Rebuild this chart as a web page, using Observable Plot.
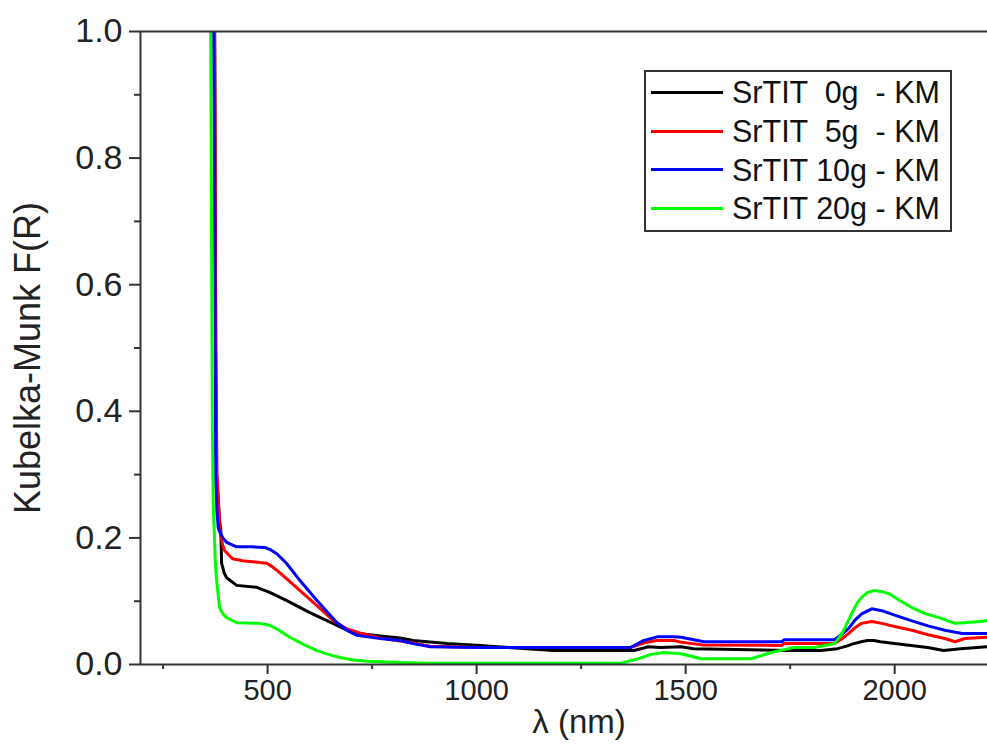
<!DOCTYPE html>
<html>
<head>
<meta charset="utf-8">
<script src="https://cdn.jsdelivr.net/npm/d3@7"></script>
<script src="https://cdn.jsdelivr.net/npm/@observablehq/plot@0.6"></script>
<style>
  html, body { margin: 0; padding: 0; background: #fff; }
  #wrap { position: relative; width: 987px; height: 749px; font-family: "Liberation Sans", Arial, sans-serif; }
  #legend { position: absolute; left: 644px; top: 70px; width: 304px; height: 158px; border: 2px solid #333; background: #fff; box-sizing: content-box; }
  .row { position: absolute; left: 0; height: 39px; display: flex; align-items: center; }
  .sw { width: 72px; height: 0; border-top: 3px solid; margin-left: 5px; margin-right: 9px; }
  .lbl { font-size: 30.5px; white-space: pre; color: #111; line-height: 1; }
</style>
</head>
<body>
<div id="wrap"><div id="chart"></div><div id="legend"></div></div>
<script>
// ---- data ----
const seriesNames = ["SrTIT  0g  - KM", "SrTIT  5g  - KM", "SrTIT 10g - KM", "SrTIT 20g - KM"];
const seriesColors = ["#000000", "#ff0000", "#0000ff", "#00ff00"];

const nm0g = [370, 374, 376, 378, 385, 388, 390, 396, 402, 426, 474, 505, 546, 601, 656, 704, 769, 817, 848, 930, 1009, 1050, 1184, 1376, 1400, 1410, 1440, 1489, 1519, 1744, 1823, 1863, 1885, 1902, 1920, 1935, 1950, 1966, 2014, 2079, 2117, 2158, 2222];
const km0g = [1.5, 0.9, 0.5, 0.3, 0.225, 0.216, 0.16, 0.145, 0.137, 0.125, 0.122, 0.114, 0.101, 0.082, 0.065, 0.05, 0.045, 0.042, 0.038, 0.033, 0.030, 0.028, 0.022, 0.022, 0.026, 0.028, 0.027, 0.028, 0.025, 0.022, 0.022, 0.025, 0.029, 0.033, 0.036, 0.038, 0.038, 0.036, 0.032, 0.027, 0.022, 0.025, 0.028];

const nm5g = [370, 374, 376, 379, 384, 387, 392, 397, 416, 440, 470, 498, 510, 522, 550, 577, 618, 656, 690, 720, 769, 848, 889, 1009, 1369, 1400, 1430, 1472, 1490, 1540, 1729, 1736, 1856, 1872, 1890, 1905, 1921, 1945, 1969, 2000, 2041, 2080, 2120, 2144, 2168, 2222];
const km5g = [1.5, 0.9, 0.5, 0.3, 0.24, 0.21, 0.19, 0.18, 0.167, 0.164, 0.162, 0.16, 0.155, 0.149, 0.133, 0.117, 0.093, 0.07, 0.056, 0.05, 0.042, 0.034, 0.029, 0.027, 0.027, 0.034, 0.038, 0.038, 0.035, 0.031, 0.030, 0.033, 0.033, 0.04, 0.049, 0.058, 0.065, 0.068, 0.065, 0.06, 0.054, 0.047, 0.041, 0.036, 0.041, 0.043];

const nm10g = [366, 371, 373, 374, 375, 375.5, 376, 379, 382, 385, 393, 402, 426, 460, 493, 505, 522, 545, 577, 618, 640, 666, 690, 714, 769, 817, 848, 889, 1009, 1369, 1400, 1434, 1472, 1489, 1544, 1729, 1736, 1856, 1872, 1890, 1905, 1921, 1945, 1969, 2000, 2041, 2080, 2120, 2161, 2222];
const km10g = [1.5, 1.0, 0.77, 0.66, 0.46, 0.36, 0.29, 0.24, 0.216, 0.21, 0.2, 0.193, 0.186, 0.186, 0.185, 0.182, 0.175, 0.16, 0.133, 0.101, 0.085, 0.066, 0.054, 0.046, 0.041, 0.038, 0.033, 0.028, 0.027, 0.027, 0.038, 0.044, 0.044, 0.043, 0.036, 0.036, 0.039, 0.039, 0.047, 0.057, 0.07, 0.08, 0.088, 0.085, 0.078, 0.069, 0.061, 0.054, 0.049, 0.049];

const nm20g = [360, 364, 366, 368, 370, 373, 375, 378, 385, 393, 402, 426, 481, 505, 530, 553, 585, 618, 645, 673, 705, 738, 817, 889, 1345, 1386, 1417, 1448, 1489, 1537, 1657, 1705, 1760, 1808, 1856, 1870, 1878, 1897, 1910, 1921, 1935, 1952, 1970, 1986, 2010, 2041, 2070, 2106, 2144, 2168, 2222];
const km20g = [1.5, 1.0, 0.66, 0.36, 0.25, 0.2, 0.16, 0.133, 0.09, 0.08, 0.074, 0.066, 0.065, 0.062, 0.053, 0.043, 0.032, 0.022, 0.016, 0.011, 0.007, 0.005, 0.003, 0.002, 0.002, 0.009, 0.016, 0.019, 0.017, 0.009, 0.009, 0.019, 0.027, 0.027, 0.033, 0.045, 0.054, 0.08, 0.097, 0.106, 0.114, 0.117, 0.115, 0.112, 0.102, 0.09, 0.081, 0.074, 0.065, 0.066, 0.069];

const xDomain = [196, 2222];
const yDomain = [0, 1];
const xMajorTicks = [500, 1000, 1500, 2000];
const xMinorTicks = [250, 750, 1250, 1750];
const yMajorTicks = [0, 0.2, 0.4, 0.6, 0.8, 1.0];
const yMinorTicks = [0.1, 0.3, 0.5, 0.7, 0.9];
const xLabel = "λ (nm)";
const yLabel = "Kubelka-Munk F(R)";

// ---- build table ----
const nmLists = [nm0g, nm5g, nm10g, nm20g];
const kmLists = [km0g, km5g, km10g, km20g];
const rows = [];
seriesNames.forEach((s, i) => {
  nmLists[i].forEach((w, j) => rows.push({series: s, nm: w, km: kmLists[i][j]}));
});

const axisColor = "#333";
const regular = "'Liberation Sans', Arial, sans-serif";
const chart = Plot.plot({
  width: 987,
  height: 749,
  marginLeft: 140,
  marginRight: 0,
  marginTop: 31,
  marginBottom: 85,
  x: {domain: xDomain},
  y: {domain: yDomain},
  color: {domain: seriesNames, range: seriesColors},
  style: {fontFamily: regular, fontSize: "26px", color: "#222", background: "#fff"},
  marks: [
    Plot.line(rows, {x: "nm", y: "km", z: "series", stroke: "series", strokeWidth: 3, clip: true, curve: "linear"}),
    Plot.ruleY([yDomain[1]], {stroke: axisColor, strokeWidth: 2}),
    Plot.ruleY([yDomain[0]], {stroke: axisColor, strokeWidth: 2}),
    Plot.ruleX([xDomain[0]], {stroke: axisColor, strokeWidth: 2}),
    Plot.axisX({ticks: xMajorTicks, tickSize: 10, tickPadding: 5, tickFormat: d => String(d), label: null, stroke: axisColor, strokeWidth: 2, fontSize: 29}),
    Plot.axisX({ticks: xMinorTicks, tickSize: 5, tickFormat: () => "", label: null, stroke: axisColor, strokeWidth: 2}),
    Plot.axisY({ticks: yMajorTicks, tickSize: 11, tickPadding: 7, tickFormat: d3.format(".1f"), label: null, stroke: axisColor, strokeWidth: 2, fontSize: 34}),
    Plot.axisY({ticks: yMinorTicks, tickSize: 6, tickFormat: () => "", label: null, stroke: axisColor, strokeWidth: 2}),
    Plot.text([xLabel], {frameAnchor: "bottom", dy: 68, dx: 15, fontSize: 33, fill: "#222"}),
    Plot.text([yLabel], {frameAnchor: "left", textAnchor: "middle", dx: -112, dy: 10, rotate: -90, fontSize: 36, fill: "#222"})
  ]
});
document.getElementById("chart").appendChild(chart);

// ---- legend ----
const legend = document.getElementById("legend");
seriesNames.forEach((s, i) => {
  const row = document.createElement("div");
  row.className = "row";
  row.style.top = (1 + i * 38.7) + "px";
  const sw = document.createElement("div");
  sw.className = "sw";
  sw.style.borderTopColor = seriesColors[i];
  const lbl = document.createElement("span");
  lbl.className = "lbl";
  lbl.textContent = s;
  row.appendChild(sw);
  row.appendChild(lbl);
  legend.appendChild(row);
});
</script>
</body>
</html>
